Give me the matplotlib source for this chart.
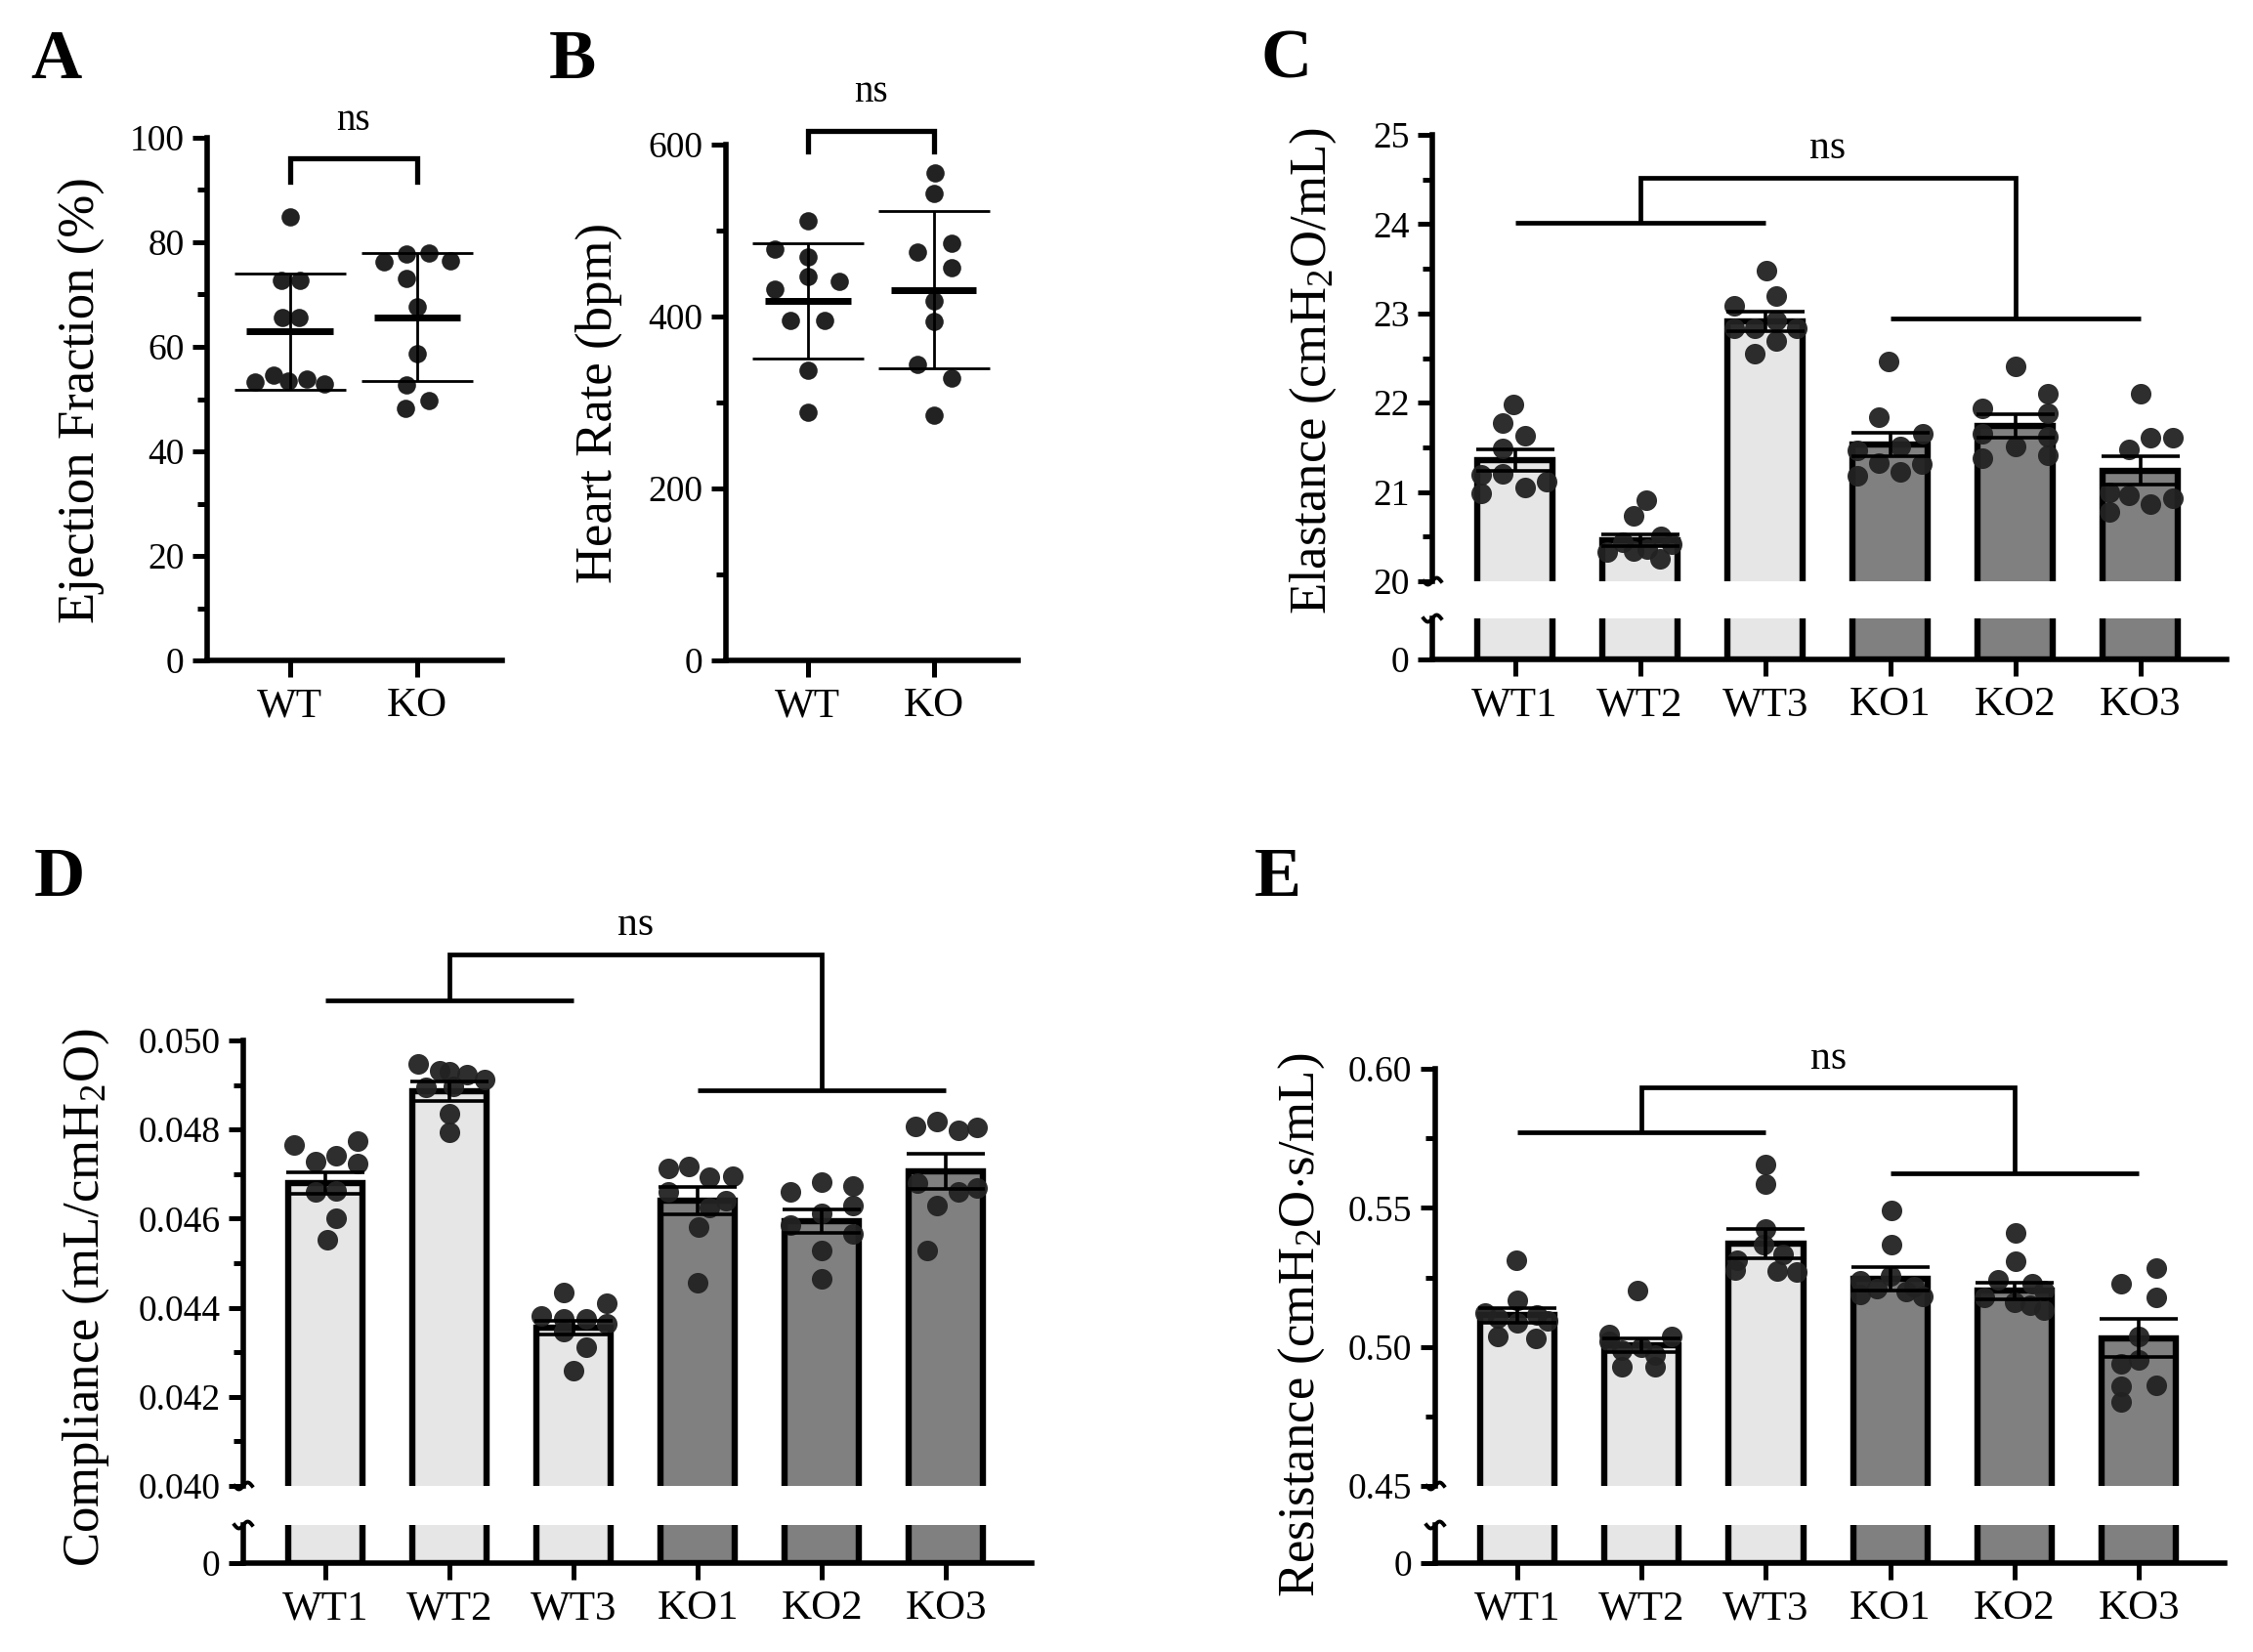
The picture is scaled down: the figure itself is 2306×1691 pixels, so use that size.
"""Cardiac function and lung mechanics panels (A-E), WT vs KO."""
import numpy as np
import matplotlib
matplotlib.use("Agg")
import matplotlib.pyplot as plt
from matplotlib import transforms
from matplotlib.ticker import MultipleLocator, FormatStrFormatter

plt.rcParams["font.family"] = ["Liberation Serif", "DejaVu Serif"]
plt.rcParams["mathtext.fontset"] = "custom"
plt.rcParams["mathtext.rm"] = "Liberation Serif"
plt.rcParams["mathtext.it"] = "Liberation Serif:italic"
plt.rcParams["mathtext.bf"] = "Liberation Serif:bold"

# ---- data ----
two_groups = ["WT", "KO"]
six_groups = ["WT1", "WT2", "WT3", "KO1", "KO2", "KO3"]

# A: ejection fraction (%), mean +/- SD
ef_wt = [84.8, 72.7, 72.7, 65.7, 65.7, 53.3, 54.5, 53.5, 53.9, 52.9]
ef_ko = [76.3, 77.7, 77.9, 76.5, 73.0, 67.7, 58.7, 52.7, 49.7, 48.3]
ef_mean = [62.9, 65.7]
ef_sd = [11.1, 12.2]

# B: heart rate (bpm), mean +/- SD
hr_wt = [511.6, 478.3, 469.4, 446.6, 440.5, 431.6, 395.0, 395.9, 337.4, 288.3]
hr_ko = [566.8, 543.2, 485.6, 475.0, 457.2, 418.2, 394.2, 344.3, 328.1, 285.4]
hr_mean = [418.6, 431.2]
hr_sd = [67.0, 91.4]

# C: elastance, mean +/- SEM
el_pts = [
    [21.98, 21.77, 21.63, 21.49, 21.20, 21.19, 21.12, 21.05, 20.98],
    [20.91, 20.73, 20.50, 20.44, 20.42, 20.36, 20.33, 20.34, 20.25],
    [23.48, 23.19, 23.08, 22.92, 22.83, 22.83, 22.83, 22.69, 22.55],
    [22.46, 21.84, 21.65, 21.51, 21.47, 21.32, 21.31, 21.22, 21.18],
    [22.41, 22.10, 21.94, 21.88, 21.65, 21.62, 21.51, 21.41, 21.38],
    [22.10, 21.61, 21.61, 21.48, 21.00, 20.96, 20.86, 20.93, 20.78],
]
el_mean = [21.36, 20.46, 22.91, 21.53, 21.74, 21.24]
el_sem = [0.12, 0.07, 0.11, 0.13, 0.13, 0.16]

# D: compliance, mean +/- SEM
co_pts = [
    [0.04765, 0.04774, 0.04729, 0.04741, 0.04724, 0.04662, 0.04659, 0.04600, 0.04553],
    [0.04947, 0.04932, 0.04929, 0.04924, 0.04912, 0.04896, 0.04894, 0.04835, 0.04794],
    [0.04435, 0.04409, 0.04382, 0.04376, 0.04374, 0.04365, 0.04347, 0.04312, 0.04259],
    [0.04718, 0.04712, 0.04694, 0.04696, 0.04661, 0.04624, 0.04582, 0.04456, 0.04641],
    [0.04682, 0.04673, 0.04659, 0.04629, 0.04586, 0.04565, 0.04529, 0.04465, 0.04612],
    [0.04818, 0.04806, 0.04798, 0.04804, 0.04680, 0.04668, 0.04661, 0.04629, 0.04529],
]
co_mean = [0.04680, 0.04886, 0.04355, 0.04640, 0.04594, 0.04706]
co_sem = [0.00024, 0.00021, 0.00016, 0.00031, 0.00027, 0.00039]

# E: resistance, mean +/- SEM
re_pts = [
    [0.5311, 0.5166, 0.5123, 0.5113, 0.5104, 0.5094, 0.5038, 0.5032, 0.5085],
    [0.5202, 0.5043, 0.5038, 0.5000, 0.4987, 0.4972, 0.4930, 0.4930, 0.5019],
    [0.5655, 0.5585, 0.5425, 0.5368, 0.5334, 0.5311, 0.5277, 0.5274, 0.5270],
    [0.5491, 0.5368, 0.5255, 0.5236, 0.5208, 0.5198, 0.5189, 0.5183, 0.5217],
    [0.5409, 0.5308, 0.5240, 0.5226, 0.5202, 0.5179, 0.5160, 0.5151, 0.5132],
    [0.5283, 0.5226, 0.5179, 0.5038, 0.4953, 0.4938, 0.4862, 0.4858, 0.4802],
]
re_mean = [0.5113, 0.5006, 0.5372, 0.5245, 0.5202, 0.5032]
re_sem = [0.0025, 0.0026, 0.0053, 0.0042, 0.0030, 0.0068]

# horizontal scatter of the dots (category units)
ef_jit = [[0, -0.07, 0.08, -0.06, 0.07, -0.27, -0.13, -0.01, 0.13, 0.27],
          [-0.26, -0.08, 0.09, 0.26, -0.08, 0, 0, -0.08, 0.09, -0.09]]
hr_jit = [[0, -0.26, 0, 0, 0.25, -0.26, -0.14, 0.13, 0, 0],
          [0.01, 0, 0.14, -0.13, 0.14, 0, 0, -0.13, 0.14, 0]]
el_jit = [[-0.01, -0.10, 0.08, -0.10, -0.10, -0.27, 0.25, 0.08, -0.27],
          [0.05, -0.05, 0.17, -0.14, 0.25, 0.06, -0.26, -0.05, 0.16],
          [0.01, 0.09, -0.25, 0.09, -0.25, -0.08, 0.25, 0.09, -0.08],
          [-0.01, -0.09, 0.26, 0.08, -0.26, -0.09, 0.25, 0.08, -0.26],
          [0, 0.26, -0.26, 0.26, -0.26, 0.26, 0, 0.26, -0.26],
          [0, 0.08, 0.26, -0.09, -0.25, -0.09, 0.08, 0.26, -0.25]]
co_jit = [[-0.25, 0.26, -0.08, 0.09, 0.26, 0.09, -0.08, 0.09, 0.02],
          [-0.25, -0.08, 0, 0.14, 0.28, 0.03, -0.19, 0, 0],
          [-0.08, 0.27, -0.26, -0.08, 0.10, 0.27, -0.08, 0.10, 0],
          [-0.07, -0.24, 0.09, 0.28, -0.24, 0.09, 0.01, 0, 0.23],
          [0, 0.25, -0.25, 0.25, -0.25, 0.25, 0, 0, 0],
          [-0.07, -0.25, 0.10, 0.25, -0.23, 0.25, 0.10, -0.07, -0.15]]
re_jit = [[-0.01, 0, -0.26, 0.16, -0.16, 0.24, -0.16, 0.15, 0],
          [-0.03, -0.26, 0.24, 0, -0.16, 0.11, -0.16, 0.11, -0.26],
          [0, 0, 0, -0.02, 0.14, -0.23, -0.25, 0.09, 0.25],
          [0.01, 0.01, 0, -0.24, -0.11, 0.13, -0.24, 0.26, 0.19],
          [0.01, 0.01, -0.13, 0.14, 0.24, -0.24, 0, 0.13, 0.24],
          [0.14, -0.14, 0.14, 0, 0, -0.14, 0.14, -0.14, -0.14]]

LIGHT = "#e6e6e6"
DARK = "#808080"
DOT = "#222222"
bar_colors = [LIGHT, LIGHT, LIGHT, DARK, DARK, DARK]

W, H = 2306, 1691
fig = plt.figure(figsize=(W / 100, H / 100), dpi=100)


def rect(l, t, r, b):
    return [l / W, 1 - b / H, (r - l) / W, (b - t) / H]


def style(ax, bottom=True):
    for s in ("top", "right"):
        ax.spines[s].set_visible(False)
    ax.spines["bottom"].set_visible(bottom)
    for s in ("left", "bottom"):
        ax.spines[s].set_linewidth(4.0)
        ax.spines[s].set_capstyle("projecting")
    ax.tick_params(which="major", length=11, width=3.6, labelsize=27, pad=6)
    ax.tick_params(which="minor", length=7, width=3.6)
    ax.tick_params(axis="x", labelsize=31, length=12, pad=8)
    ax.patch.set_alpha(0)


def squiggle(ax, y_axes):
    t = np.linspace(-1, 1, 40)
    tr = fig.dpi_scale_trans + transforms.ScaledTranslation(0, y_axes, ax.transAxes)
    ax.plot(t * 0.09, 0.035 * np.sin(t * np.pi), color="black", lw=2.8,
            transform=tr, clip_on=False)


def dot_panel(r, groups, data, jit, means, sds, ylim, major, minor, br, ns_y):
    ax = fig.add_axes(r)
    style(ax)
    x = np.arange(len(groups))
    for i in range(len(groups)):
        ax.scatter(i + np.asarray(jit[i]), data[i], s=180, color=DOT, lw=0,
                   zorder=2, clip_on=False)
    ax.hlines(means, x - 0.34, x + 0.34, color="black", lw=5.0, zorder=3)
    ax.errorbar(x, means, yerr=sds, fmt="none", ecolor="black", elinewidth=2.0,
                capsize=41, capthick=2.0, zorder=3)
    ax.plot([0, 0, 1, 1], [br[0], br[1], br[1], br[0]], color="black", lw=3.8,
            clip_on=False, solid_joinstyle="miter")
    ax.text(0.5, ns_y, "ns", ha="center", va="baseline", fontsize=28)
    ax.set_xlim(-0.65, 1.67)
    ax.set_ylim(*ylim)
    ax.set_xticks(x)
    ax.set_xticklabels(groups)
    ax.yaxis.set_major_locator(MultipleLocator(major))
    ax.yaxis.set_minor_locator(MultipleLocator(minor))
    return ax


def bar_panel(r_top, r_bot, data, jit, means, sems, ylim, major, minor, fmt,
              levels, ns_y):
    top = fig.add_axes(r_top)
    bot = fig.add_axes(r_bot)
    style(top, bottom=False)
    style(bot)
    x = np.arange(len(six_groups))
    for ax in (top, bot):
        ax.bar(x, means, width=0.6, color=bar_colors, edgecolor="black",
               linewidth=4.6, zorder=1)
        ax.set_xlim(-0.66, 5.69)
    for i in range(len(six_groups)):
        top.scatter(i + np.asarray(jit[i]), data[i], s=230, color=DOT, lw=0,
                    alpha=0.95, zorder=2)
    top.errorbar(x, means, yerr=sems, fmt="none", ecolor="black",
                 elinewidth=2.6, capsize=29, capthick=2.6, zorder=3)

    # nested significance bracket: WT1-WT3 vs KO1-KO3
    wt_y, top_y, ko_y = levels
    kw = dict(color="black", lw=3.4, clip_on=False, solid_capstyle="butt")
    top.plot([0, 2], [wt_y, wt_y], **kw)
    top.plot([3, 5], [ko_y, ko_y], **kw)
    top.plot([1, 1, 4, 4], [wt_y, top_y, top_y, ko_y], solid_joinstyle="miter", **kw)
    top.text(2.5, ns_y, "ns", ha="center", va="baseline", fontsize=30)

    top.set_ylim(*ylim)
    top.yaxis.set_major_locator(MultipleLocator(major))
    top.yaxis.set_minor_locator(MultipleLocator(minor))
    top.yaxis.set_major_formatter(FormatStrFormatter(fmt))
    top.set_xticks([])

    bot.set_ylim(0, (ylim[1] - ylim[0]) * 0.08)
    bot.set_yticks([0])
    bot.set_yticklabels(["0"])
    bot.set_xticks(x)
    bot.set_xticklabels(six_groups)
    squiggle(top, 0)
    squiggle(bot, 1)
    return top, bot


# A
dot_panel(rect(212, 141, 514, 676), two_groups, [ef_wt, ef_ko], ef_jit,
          ef_mean, ef_sd, (0, 100), 20, 10, (91.5, 96.0), 101.5)
# B
dot_panel(rect(743, 148, 1042, 676), two_groups, [hr_wt, hr_ko], hr_jit,
          hr_mean, hr_sd, (0, 600), 200, 100, (592, 616), 650)
# C
bar_panel(rect(1466, 138, 2279, 595), rect(1466, 633, 2279, 675),
          el_pts, el_jit, el_mean, el_sem, (20, 25), 1, 0.5, "%d",
          (24.02, 24.52, 22.94), 24.74)
# D
bar_panel(rect(249, 1065, 1056, 1521), rect(249, 1561, 1056, 1600),
          co_pts, co_jit, co_mean, co_sem, (0.040, 0.050), 0.002, 0.001, "%.3f",
          (0.05091, 0.05193, 0.04889), 0.05237)
# E
bar_panel(rect(1469, 1094, 2277, 1521), rect(1469, 1561, 2277, 1600),
          re_pts, re_jit, re_mean, re_sem, (0.45, 0.60), 0.05, 0.025, "%.2f",
          (0.5770, 0.5934, 0.5623), 0.600)

# y labels and panel letters
ylabels = [
    (84, 410, "Ejection Fraction (%)"),
    (613, 412, "Heart Rate (bpm)"),
    (1344, 380, r"Elastance (cmH$_\mathrm{2}$O/mL)"),
    (88, 1328, r"Compliance (mL/cmH$_\mathrm{2}$O)"),
    (1332, 1356, r"Resistance (cmH$_\mathrm{2}$O$\cdot$s/mL)"),
]
for x, y, s in ylabels:
    fig.text(x / W, 1 - y / H, s, rotation=90, ha="center", va="center", fontsize=38)

letters = [(31, 80, "A"), (562, 80, "B"), (1290, 80, "C"), (35, 917, "D"), (1284, 917, "E")]
for x, y, s in letters:
    fig.text(x / W, 1 - y / H, s, ha="left", va="baseline", fontsize=52, fontweight="bold")

fig.savefig("out.png", dpi=100)
